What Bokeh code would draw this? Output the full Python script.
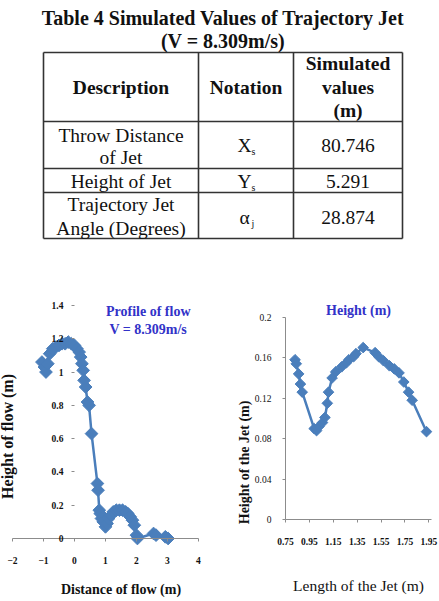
import math
from bokeh.plotting import figure
from bokeh.layouts import column, row
from bokeh.models import Range1d, FixedTicker, Label
from bokeh.core.properties import value
from bokeh.embed import file_html
from bokeh.resources import INLINE

# ---------------- table contents ----------------
table_title = ["Table 4 Simulated Values of Trajectory Jet", "(V = 8.309m/s)"]
header = ["Description", "Notation", ["Simulated", "values", "(m)"]]
descriptions = [["Throw Distance", "of Jet"], ["Height of Jet"], ["Trajectory Jet", "Angle (Degrees)"]]
notation_main = ["X", "Y", "\u03b1"]
notation_sub = ["s", "s", "j"]
sim_values = ["80.746", "5.291", "28.874"]

# ---------------- profile of flow ----------------
flow_x = [-1.05, -0.97, -0.92, -0.86, -0.8, -0.7, -0.6, -0.5, -0.4, -0.3, -0.2, -0.1,
          0.0, 0.08, 0.15, 0.2, 0.24, 0.28, 0.31, 0.36, 0.42, 0.47, 0.55, 0.74, 0.76,
          0.8, 0.83, 0.87, 0.93, 1.0, 1.05, 1.1, 1.18, 1.25, 1.35, 1.45, 1.55, 1.65,
          1.72, 1.8, 1.87, 1.93, 2.0, 2.03, 2.55, 2.63, 2.93, 3.02]
flow_y = [1.06, 1.03, 1.0, 1.05, 1.11, 1.14, 1.15, 1.16, 1.17, 1.17, 1.18, 1.17,
          1.16, 1.14, 1.12, 1.09, 1.05, 1.01, 0.95, 0.91, 0.82, 0.80, 0.63, 0.33, 0.29,
          0.17, 0.15, 0.12, 0.10, 0.07, 0.09, 0.12, 0.14, 0.16, 0.17, 0.17, 0.17, 0.16,
          0.15, 0.13, 0.11, 0.08, 0.02, 0.0, 0.03, 0.02, 0.01, 0.0]
flow_x_ticks = [-2, -1, 0, 1, 2, 3, 4]
flow_y_ticks = [0, 0.2, 0.4, 0.6, 0.8, 1.0, 1.2, 1.4]
flow_y_labels = ["0", "0.2", "0.4", "0.6", "0.8", "1", "1.2", "1.4"]

# ---------------- jet height ----------------
jet_x = [0.83, 0.84, 0.86, 0.875, 0.89, 0.99, 1.01, 1.03, 1.06, 1.08, 1.10, 1.11,
         1.14, 1.17, 1.22, 1.26, 1.28, 1.32, 1.34, 1.40, 1.50, 1.53, 1.57, 1.62,
         1.66, 1.70, 1.74, 1.78, 1.81, 1.93]
jet_y = [0.158, 0.154, 0.144, 0.134, 0.126, 0.090, 0.088, 0.092, 0.096, 0.101, 0.115,
         0.126, 0.140, 0.146, 0.151, 0.155, 0.158, 0.161, 0.164, 0.170, 0.165, 0.161,
         0.157, 0.152, 0.149, 0.145, 0.136, 0.126, 0.118, 0.087]
jet_x_ticks = [0.75, 0.95, 1.15, 1.35, 1.55, 1.75, 1.95]
jet_x_labels = ["0.75", "0.95", "1.15", "1.35", "1.55", "1.75", "1.95"]
jet_y_ticks = [0, 0.04, 0.08, 0.12, 0.16, 0.2]
jet_y_labels = ["0", "0.04", "0.08", "0.12", "0.16", "0.2"]

SERIF = value("Liberation Serif")
BLUE = "#4a7ebb"
TITLE_BLUE = "#3232c8"
INK = "#111111"

# ================= table =================
tbl = figure(width=439, height=270, x_range=Range1d(0, 439), y_range=Range1d(270, 0),
             output_backend="svg", toolbar_location=None,
             x_axis_location=None, y_axis_location=None, min_border=0)
tbl.outline_line_color = None
tbl.xgrid.visible = False
tbl.ygrid.visible = False

tbl.text(x=[222.5, 222.5], y=[17, 40.5], text=table_title, text_font=SERIF,
         text_font_size="20px", text_font_style="bold", text_align="center",
         text_baseline="middle", text_color=INK)

col_edges = [43, 198, 293, 402]
row_edges = [52, 121, 168, 192, 238]
col_mid = [(col_edges[i] + col_edges[i + 1]) / 2 for i in range(3)]
tbl.segment(x0=[col_edges[0]] * len(row_edges), x1=[col_edges[-1]] * len(row_edges),
            y0=row_edges, y1=row_edges, line_color="#333333", line_width=1.6)
tbl.segment(x0=col_edges, x1=col_edges, y0=[row_edges[0]] * 4, y1=[row_edges[-1]] * 4,
            line_color="#333333", line_width=1.6)

# header row
tbl.text(x=[col_mid[0], col_mid[1]], y=[87, 87], text=header[:2], text_font=SERIF,
         text_font_size="19.5px", text_font_style="bold", text_align="center",
         text_baseline="middle", text_color=INK)
tbl.text(x=[col_mid[2]] * 3, y=[63, 87, 110], text=header[2], text_font=SERIF,
         text_font_size="19.5px", text_font_style="bold", text_align="center",
         text_baseline="middle", text_color=INK)

# body rows
desc_y = [[135, 157], [181], [204, 228]]
row_mid = [145, 181, 217]
for lines, ys in zip(descriptions, desc_y):
    tbl.text(x=[col_mid[0]] * len(lines), y=ys, text=lines, text_font=SERIF,
             text_font_size="19.5px", text_align="center", text_baseline="middle",
             text_color=INK)
tbl.text(x=[col_mid[1] - 1.5] * 3, y=row_mid, text=notation_main, text_font=SERIF,
         text_font_size="19.5px", text_align="center", text_baseline="middle",
         text_color=INK)
tbl.text(x=[col_mid[1] + 5.5] * 3, y=[r + 6 for r in row_mid], text=notation_sub,
         text_font=SERIF, text_font_size="10px", text_align="left",
         text_baseline="middle", text_color=INK)
tbl.text(x=[col_mid[2]] * 3, y=row_mid, text=sim_values, text_font=SERIF,
         text_font_size="19.5px", text_align="center", text_baseline="middle",
         text_color=INK)


def style_axes(p, ylabel_style):
    for ax in (p.xaxis[0], p.yaxis[0]):
        ax.major_label_text_font = "Liberation Serif"
        ax.major_label_text_font_size = "9.5px"
        ax.major_label_text_color = INK
        ax.minor_tick_line_color = None
        ax.major_tick_in = 0
        ax.major_tick_out = 3
        ax.major_tick_line_color = "#8c8c8c"
        ax.axis_line_color = "#8c8c8c"
    p.xaxis[0].major_label_text_font_style = "bold"
    p.yaxis[0].major_label_text_font_style = ylabel_style
    p.xgrid.visible = False
    p.ygrid.visible = False
    p.outline_line_color = None


def caption(p, x, y, text, size, style="bold", color=INK, angle=0.0):
    p.add_layout(Label(x=x, y=y, text=text, text_font="Liberation Serif",
                       text_font_size=size, text_font_style=style, text_color=color,
                       text_align="center", text_baseline="middle", angle=angle))


# ================= profile of flow =================
# the frame fills the whole figure; axes sit at x = 0 and y = 0
left = figure(width=220, height=331, x_range=Range1d(-2.387, 4.710),
              y_range=Range1d(-0.3785, 1.610), output_backend="svg",
              toolbar_location=None, min_border=0)
style_axes(left, "bold")
left.xaxis.fixed_location = 0
left.yaxis.fixed_location = 0
left.xaxis.bounds = (-2, 4)
left.yaxis.bounds = (0, 1.4)
left.xaxis.ticker = FixedTicker(ticks=flow_x_ticks)
left.yaxis.ticker = FixedTicker(ticks=flow_y_ticks)
left.yaxis.major_label_overrides = dict(zip(flow_y_ticks, flow_y_labels))
left.yaxis.axis_line_color = None
left.xaxis.major_label_standoff = 16
left.yaxis.major_label_standoff = 8

left.line(flow_x, flow_y, line_color=BLUE, line_width=2.5)
left.scatter(flow_x, flow_y, marker="square", angle=math.pi / 4, size=9,
             fill_color=BLUE, line_color=BLUE)

caption(left, 2.38, 1.364, "Profile of flow", "14px", color=TITLE_BLUE)
caption(left, 2.38, 1.256, "V = 8.309m/s", "14px", color=TITLE_BLUE)
caption(left, 1.5, -0.306, "Distance of flow (m)", "14px")
caption(left, -2.15, 0.613, "Height of flow (m)", "16px", angle=math.pi / 2)

# ================= jet height =================
right = figure(width=219, height=331, x_range=Range1d(0.2061, 2.0387),
               y_range=Range1d(-0.0807, 0.2461), output_backend="svg",
               toolbar_location=None, min_border=0)
style_axes(right, "normal")
right.xaxis.fixed_location = 0
right.yaxis.fixed_location = 0.75
right.xaxis.bounds = (0.75, 1.97)
right.yaxis.bounds = (0, 0.2)
right.xaxis.ticker = FixedTicker(ticks=jet_x_ticks)
right.xaxis.major_label_overrides = dict(zip(jet_x_ticks, jet_x_labels))
right.yaxis.ticker = FixedTicker(ticks=jet_y_ticks)
right.yaxis.major_label_overrides = dict(zip(jet_y_ticks, jet_y_labels))
right.xaxis.major_label_standoff = 15
right.yaxis.major_label_standoff = 11

right.line(jet_x, jet_y, line_color=BLUE, line_width=2.5)
right.scatter(jet_x, jet_y, marker="square", angle=math.pi / 4, size=7.5,
              fill_color=BLUE, line_color=BLUE)

caption(right, 1.361, 0.2066, "Height (m)", "14px", color=TITLE_BLUE)
caption(right, 1.361, -0.0649, "Length of the Jet (m)", "15.5px", style="normal")
caption(right, 0.411, 0.0566, "Height of the Jet (m)", "14px", angle=math.pi / 2)

page = column(tbl, row(left, right, spacing=0), spacing=0)
open("out.html", "w").write(file_html(page, INLINE))
